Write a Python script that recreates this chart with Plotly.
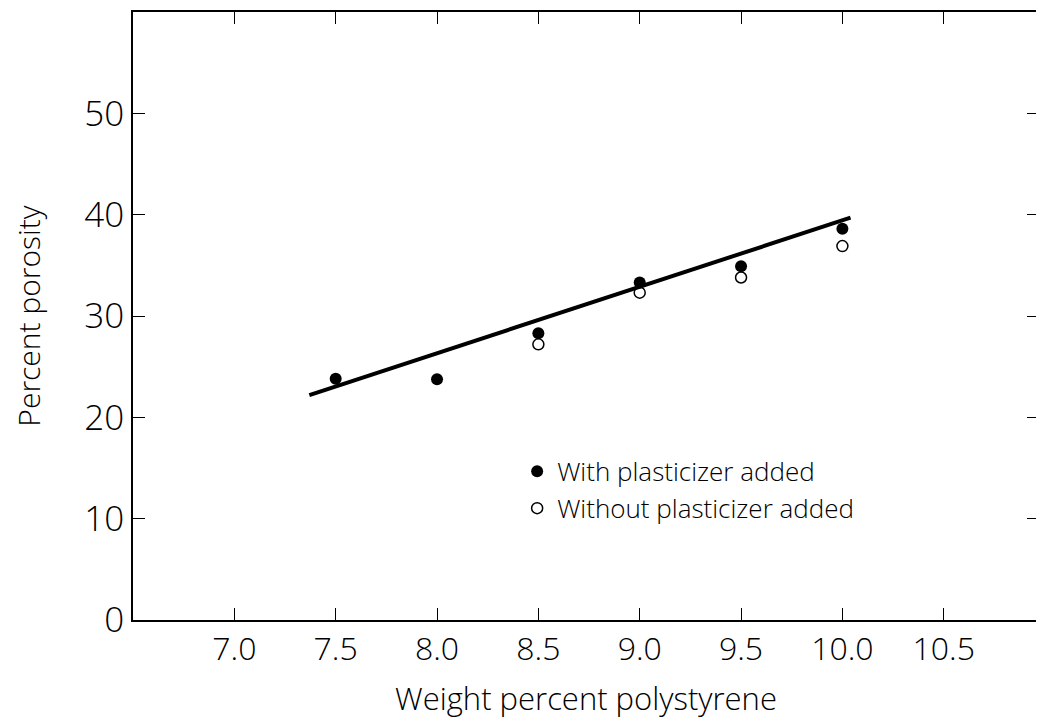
import plotly.graph_objects as go

# Data
x_with = [7.5, 8.0, 8.5, 9.0, 9.5, 10.0]
y_with = [23.8, 23.75, 28.3, 33.3, 34.9, 38.6]
x_without = [8.5, 9.0, 9.5, 10.0]
y_without = [27.2, 32.3, 33.8, 36.9]
fit_x = [7.37, 10.04]
fit_y = [22.2, 39.7]

x_ticks = [7.0, 7.5, 8.0, 8.5, 9.0, 9.5, 10.0, 10.5]
x_ticktext = ["7.0", "7.5", "8.0", "8.5", "9.0", "9.5", "10.0", "10.5"]
y_ticks = [0, 10, 20, 30, 40, 50]
y_ticktext = ["0", "10", "20", "30", "40", "50"]

FONT = "Open Sans"

fig = go.Figure()
fig.add_trace(go.Scatter(x=fit_x, y=fit_y, mode="lines",
                         line=dict(color="black", width=4), showlegend=False))
fig.add_trace(go.Scatter(x=x_with, y=y_with, mode="markers", name="With plasticizer added",
                         legendgroup="a",
                         marker=dict(symbol="circle", size=12, color="black")))
fig.add_trace(go.Scatter(x=x_without, y=y_without, mode="markers", name="Without plasticizer added",
                         legendgroup="b",
                         marker=dict(symbol="circle-open", size=11, color="black",
                                     line=dict(width=1.5, color="black"))))

axis_common = dict(showline=True, linecolor="black", linewidth=1.5, mirror="ticks",
                   ticks="inside", tickcolor="black", tickwidth=1, showgrid=False,
                   zeroline=False, automargin=False)

fig.update_xaxes(range=[6.5, 10.97], tickvals=x_ticks, ticktext=x_ticktext, ticklen=12,
                 tickfont=dict(family=FONT, size=32, color="black", weight=300), ticklabelstandoff=0,
                 title=dict(text="Weight percent polystyrene",
                            font=dict(family=FONT, size=31, color="black", weight=300),
                            standoff=20),
                 **axis_common)
fig.update_yaxes(range=[0, 60], tickvals=y_ticks, ticktext=y_ticktext, ticklen=12,
                 tickfont=dict(family=FONT, size=35, color="black", weight=300), ticklabelstandoff=0,
                 title=dict(text="Percent porosity",
                            font=dict(family=FONT, size=30, color="black", weight=300),
                            standoff=35),
                 **axis_common)

fig.update_layout(
    width=1036, height=716,
    margin=dict(l=125, r=5, t=4, b=104),
    plot_bgcolor="white", paper_bgcolor="white",
    legend=dict(x=0.424, y=0.283, xanchor="left", yanchor="top",
                bgcolor="rgba(0,0,0,0)", font=dict(family=FONT, size=26, color="black", weight=300),
                itemwidth=30, tracegroupgap=0),
)

fig.write_html("out.html")
